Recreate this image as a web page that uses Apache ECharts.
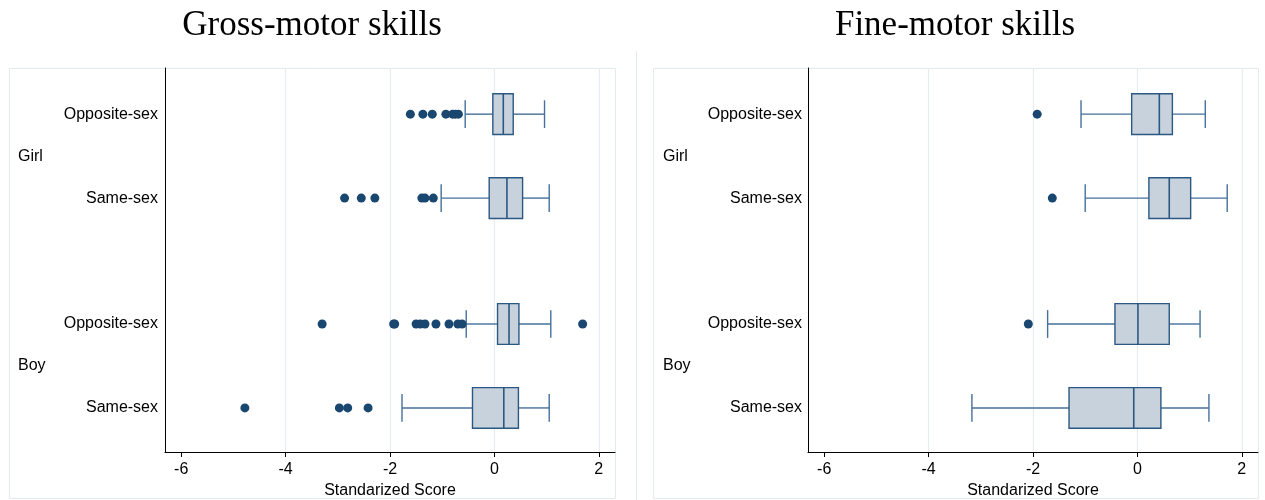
<!DOCTYPE html>
<html>
<head>
<meta charset="utf-8">
<script src="https://cdn.jsdelivr.net/npm/echarts@6/dist/echarts.min.js"></script>
<style>
  html, body { margin: 0; padding: 0; background: #fff; }
  #chart { width: 1265px; height: 500px; }
</style>
</head>
<body>
<div id="chart"></div>
<script>
// Groups and comparison types (rows, top to bottom)
const groupLabels = ['Girl', 'Boy'];
const typeLabels = ['Opposite-sex', 'Same-sex'];
const panelTitles = ['Gross-motor skills', 'Fine-motor skills'];
const xTicks = [-6, -4, -2, 0, 2];

// Box summaries: [lower whisker, Q1, median, Q3, upper whisker]
// order: Girl/Opposite-sex, Girl/Same-sex, Boy/Opposite-sex, Boy/Same-sex
const grossBoxes = [
  [-0.56, -0.03, 0.17, 0.36, 0.96],
  [-1.02, -0.10, 0.24, 0.54, 1.05],
  [-0.54, 0.06, 0.28, 0.47, 1.08],
  [-1.77, -0.42, 0.18, 0.46, 1.05]
];
const grossOutliers = [
  [-1.61, -1.37, -1.19, -0.93, -0.80, -0.75, -0.69],
  [-2.87, -2.55, -2.29, -1.39, -1.33, -1.17],
  [-3.30, -1.93, -1.91, -1.50, -1.42, -1.33, -1.12, -0.87, -0.70, -0.62, 1.69],
  [-4.78, -2.97, -2.81, -2.42]
];
const fineBoxes = [
  [-1.08, -0.11, 0.42, 0.67, 1.30],
  [-1.00, 0.22, 0.61, 1.02, 1.72],
  [-1.72, -0.43, 0.01, 0.61, 1.20],
  [-3.17, -1.31, -0.07, 0.45, 1.37]
];
const fineOutliers = [
  [-1.92],
  [-1.63],
  [-2.09],
  []
];

// Row layout on the vertical value scale: rows within a group are 2 apart,
// groups are 5 apart; group labels sit between their two rows.
const rowPos = [];
const rowLabel = {};
const groupPos = {};
groupLabels.forEach((g, gi) => {
  typeLabels.forEach((t, ti) => {
    const p = gi * 5 + ti * 2 + 1;
    rowPos.push(p);
    rowLabel[p] = t;
  });
  groupPos[gi * 5 + 2] = g;
});

const BOX_FILL = '#c8d2dc';
const BOX_LINE = '#2b5883';
const WHISKER = '#46709a';
const DOT = '#1a476f';
const GRID_LINE = '#e6edf1';
const FONT = 'Liberation Sans, Arial, sans-serif';

function renderBox(params, api) {
  const y = api.value(0);
  const lo = api.value(1), q1 = api.value(2), med = api.value(3), q3 = api.value(4), hi = api.value(5);
  const pLo = api.coord([lo, y]);
  const pQ1 = api.coord([q1, y]);
  const pMed = api.coord([med, y]);
  const pQ3 = api.coord([q3, y]);
  const pHi = api.coord([hi, y]);
  const boxH = api.size([0, 0.97])[1];
  const capH = api.size([0, 0.66])[1];
  const cy = pQ1[1];
  const wStyle = { stroke: WHISKER, lineWidth: 1.4 };
  return {
    type: 'group',
    children: [
      { type: 'line', shape: { x1: pLo[0], y1: cy, x2: pQ1[0], y2: cy }, style: wStyle },
      { type: 'line', shape: { x1: pQ3[0], y1: cy, x2: pHi[0], y2: cy }, style: wStyle },
      { type: 'line', shape: { x1: pLo[0], y1: cy - capH / 2, x2: pLo[0], y2: cy + capH / 2 }, style: wStyle },
      { type: 'line', shape: { x1: pHi[0], y1: cy - capH / 2, x2: pHi[0], y2: cy + capH / 2 }, style: wStyle },
      { type: 'rect', shape: { x: pQ1[0], y: cy - boxH / 2, width: pQ3[0] - pQ1[0], height: boxH },
        style: { fill: BOX_FILL, stroke: BOX_LINE, lineWidth: 1.4 } },
      { type: 'line', shape: { x1: pMed[0], y1: cy - boxH / 2, x2: pMed[0], y2: cy + boxH / 2 },
        style: { stroke: BOX_LINE, lineWidth: 1.6 } }
    ]
  };
}

function boxData(boxes) {
  return boxes.map((b, i) => [rowPos[i]].concat(b));
}
function outlierData(outs) {
  const d = [];
  outs.forEach((arr, i) => arr.forEach(v => d.push([v, rowPos[i]])));
  return d;
}

const Y_MIN = -0.1, Y_MAX = 9.05;
const X_MIN = -6.31, X_MAX = 2.31;

const grids = [
  { left: 165, right: 650, top: 68, bottom: 48, outerBoundsMode: 'none', containLabel: false },
  { left: 808, right: 7, top: 68, bottom: 48, outerBoundsMode: 'none', containLabel: false }
];

const xAxes = grids.map((g, i) => ({
  type: 'value', gridIndex: i, min: X_MIN, max: X_MAX, position: 'bottom',
  name: 'Standarized Score', nameLocation: 'middle', nameGap: 29,
  nameTextStyle: { color: '#000', fontSize: 16, fontFamily: FONT },
  axisLine: { show: true, onZero: false, lineStyle: { color: '#000', width: 1 } },
  axisTick: { show: true, length: 5, customValues: xTicks, lineStyle: { color: '#000' } },
  axisLabel: { customValues: xTicks, margin: 10, color: '#000', fontSize: 16, fontFamily: FONT },
  splitLine: { show: false }
}));

const yAxes = [];
grids.forEach((g, i) => {
  yAxes.push({
    type: 'value', gridIndex: i, min: Y_MIN, max: Y_MAX, inverse: true, position: 'left',
    axisLine: { show: true, onZero: false, lineStyle: { color: '#000', width: 1 } },
    axisTick: { show: false },
    splitLine: { show: false },
    axisLabel: {
      customValues: Object.keys(rowLabel).map(Number),
      formatter: v => rowLabel[v] || '',
      margin: i === 0 ? 7 : 6, color: '#000', fontSize: 16, fontFamily: FONT
    }
  });
  yAxes.push({
    type: 'value', gridIndex: i, min: Y_MIN, max: Y_MAX, inverse: true, position: 'left',
    axisLine: { show: false, onZero: false }, axisTick: { show: false }, splitLine: { show: false },
    axisLabel: {
      customValues: Object.keys(groupPos).map(Number),
      formatter: v => groupPos[v] || '',
      align: 'left',
      margin: i === 0 ? 147 : 145, color: '#000', fontSize: 16, fontFamily: FONT
    }
  });
});

const panels = [
  { boxes: grossBoxes, outs: grossOutliers },
  { boxes: fineBoxes, outs: fineOutliers }
];

const series = [];
panels.forEach((p, i) => {
  series.push({
    type: 'line', xAxisIndex: i, yAxisIndex: i * 2, data: [], z: 1, silent: true,
    markLine: {
      z: 0, silent: true, symbol: 'none', label: { show: false },
      lineStyle: { color: GRID_LINE, width: 1.2, type: 'solid' },
      data: xTicks.filter(v => v > X_MIN + 0.5).map(v => ({ xAxis: v }))
    }
  });
  series.push({
    type: 'custom', xAxisIndex: i, yAxisIndex: i * 2, z: 3, silent: true,
    renderItem: renderBox,
    encode: { x: [1, 2, 3, 4, 5], y: 0 },
    data: boxData(p.boxes)
  });
  series.push({
    type: 'scatter', xAxisIndex: i, yAxisIndex: i * 2, z: 4, silent: true,
    symbol: 'circle', symbolSize: 9,
    itemStyle: { color: DOT, opacity: 1 },
    data: outlierData(p.outs)
  });
});

const chart = echarts.init(document.getElementById('chart'), null, { renderer: 'canvas' });
chart.setOption({
  animation: false,
  backgroundColor: '#fff',
  title: [
    { text: panelTitles[0], left: 307, top: 3, textAlign: 'center',
      textStyle: { fontFamily: 'Liberation Serif, serif', fontWeight: 'normal', fontSize: 35, color: '#000' } },
    { text: panelTitles[1], left: 950, top: 3, textAlign: 'center',
      textStyle: { fontFamily: 'Liberation Serif, serif', fontWeight: 'normal', fontSize: 35, color: '#000' } }
  ],
  graphic: [
    { type: 'rect', silent: true, z: -10, shape: { x: 9.5, y: 68.5, width: 606, height: 430 },
      style: { fill: 'none', stroke: '#e3eaef', lineWidth: 1 } },
    { type: 'rect', silent: true, z: -10, shape: { x: 653.5, y: 68.5, width: 605, height: 430 },
      style: { fill: 'none', stroke: '#e3eaef', lineWidth: 1 } },
    { type: 'line', silent: true, z: -10, shape: { x1: 636.5, y1: 51, x2: 636.5, y2: 500 },
      style: { stroke: '#e3eaef', lineWidth: 1 } }
  ],
  grid: grids,
  xAxis: xAxes,
  yAxis: yAxes,
  series: series
});
</script>
</body>
</html>
